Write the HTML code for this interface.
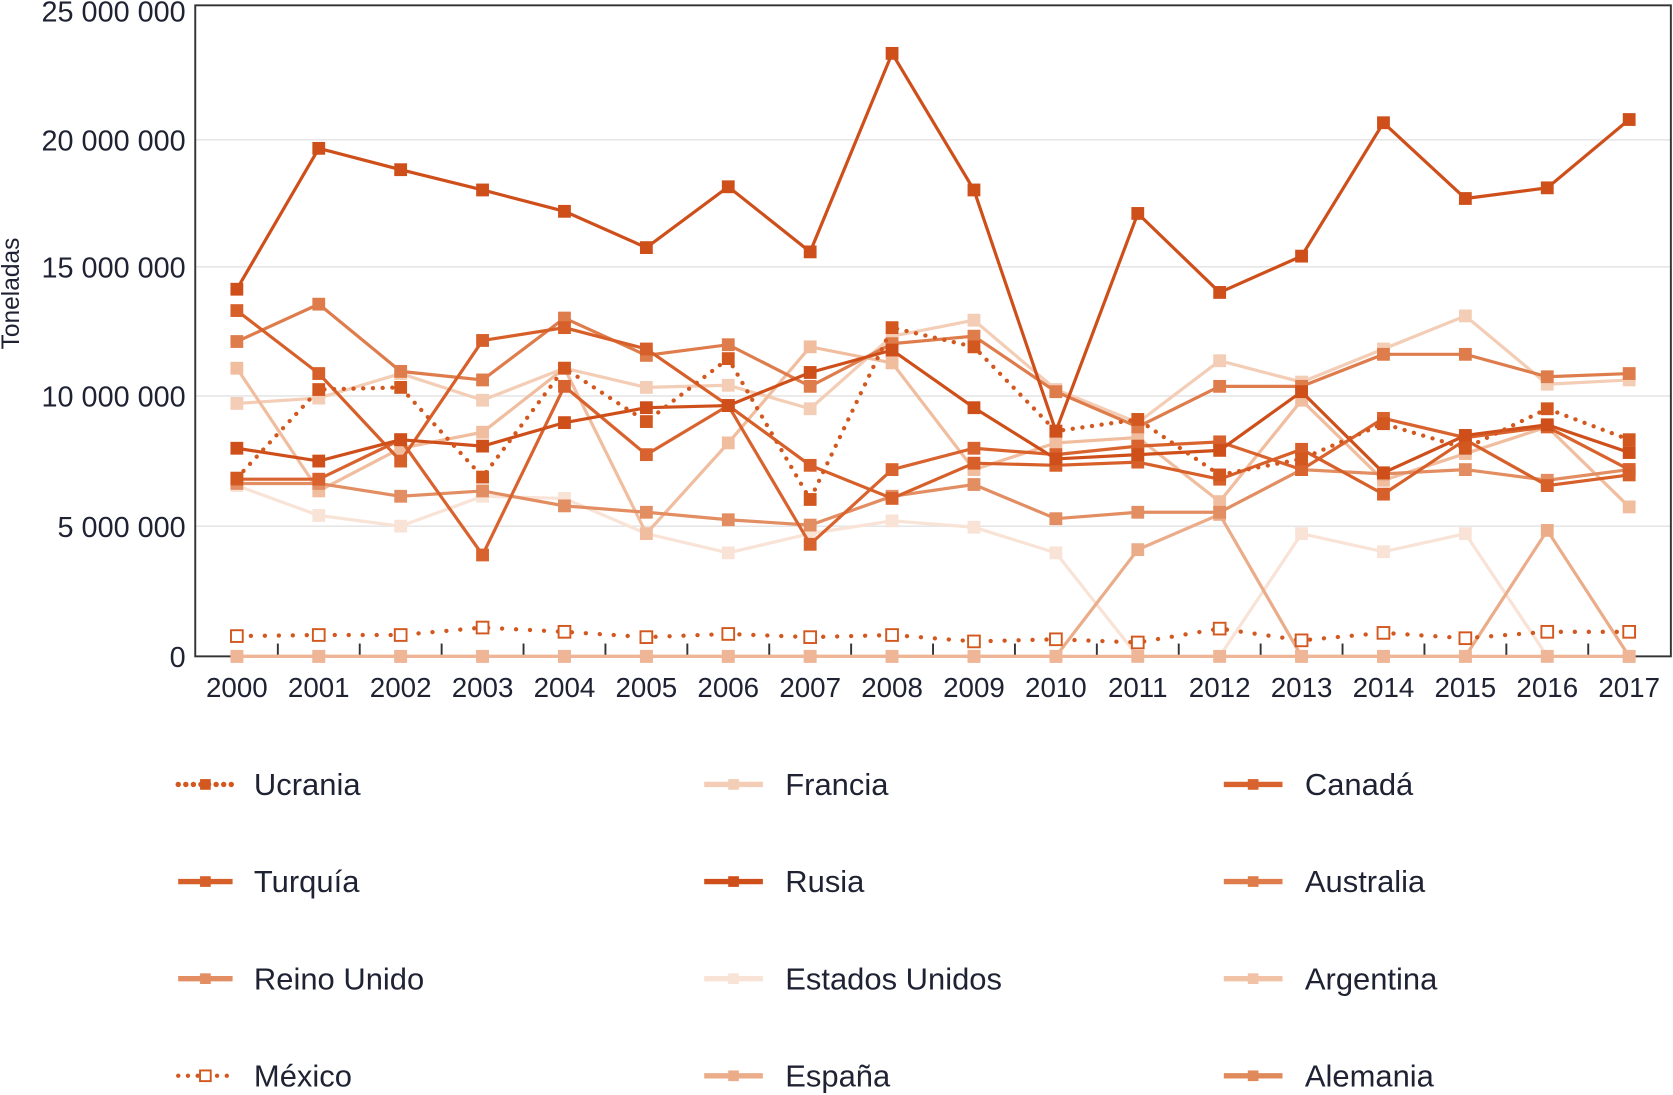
<!DOCTYPE html>
<html><head><meta charset="utf-8"><style>
html,body{margin:0;padding:0;background:#fff;}
svg{display:block;font-family:"Liberation Sans",sans-serif;}
</style></head><body>
<svg id="c" width="1673" height="1095" viewBox="0 0 1568 1026" preserveAspectRatio="none" xmlns="http://www.w3.org/2000/svg">
<g stroke="#e6e6e6" stroke-width="1.5">
<line x1="183" y1="131" x2="1566" y2="131"/><line x1="183" y1="250" x2="1566" y2="250"/>
<line x1="183" y1="371" x2="1566" y2="371"/><line x1="183" y1="493" x2="1566" y2="493"/>
</g>
<rect x="183" y="5" width="1383" height="610" fill="none" stroke="#333" stroke-width="1.8"/>
<g font-size="27" fill="#1e2233" text-anchor="end">
<text x="174" y="20">25 000 000</text><text x="174" y="141">20 000 000</text>
<text x="174" y="260">15 000 000</text><text x="174" y="381">10 000 000</text>
<text x="174" y="503">5 000 000</text><text x="174" y="625">0</text>
</g>
<text transform="translate(18,275) rotate(-90)" font-size="23" fill="#1e2233" text-anchor="middle">Toneladas</text>
<g id="ticks" stroke="#333" stroke-width="1.8"></g>
<g id="xl" font-size="26" fill="#1e2233" text-anchor="middle"></g>
<g id="series"></g>
<g id="leg" font-size="29" fill="#1e2233"></g>
</svg>
<script>
var X=function(i){return 222+i*76.76;};
var ns="http://www.w3.org/2000/svg";
function el(p,t,a,txt){var e=document.createElementNS(ns,t);for(var k in a)e.setAttribute(k,a[k]);if(txt)e.textContent=txt;document.getElementById(p).appendChild(e);return e;}
for(var i=0;i<18;i++){el('xl','text',{x:X(i),y:653},String(2000+i));if(i<17)el('ticks','line',{x1:X(i)+38.4,y1:615,x2:X(i)+38.4,y2:603});}
var S=[
{c:"#f8e3d6",d:[455,483,493,465,467,500,518,500,488,494,518,615,615,500,517,500,615,615]},
{c:"#f3cdb5",d:[378,373,350,375,345,363,361,383,315,300,365,396,338,358,327,296,360,356]},
{c:"#f0bd9f",d:[345,460,420,405,345,500,415,325,340,440,415,410,470,375,450,425,400,475]},
{c:"#ebad89",d:[615,615,615,615,615,615,615,615,615,615,615,515,482,615,615,615,497,615]},
{c:"#e38e62",d:[453,453,465,460,474,480,487,492,465,454,486,480,480,440,444,440,450,440]},
{c:"#eeb697",d:[615,615,615,615,615,615,615,615,615,615,615,615,615,615,615,615,615,615]},
{c:"#de7c4c",d:[320,285,348,356,298,333,323,362,322,315,367,400,362,362,332,332,353,350]},
{c:"#d9632e",d:[449,449,412,520,362,426,380,510,440,420,426,418,414,440,392,410,400,440]},
{c:"#d7602a",d:[291,350,432,319,307,327,380,436,467,434,436,433,449,421,463,412,455,445]},
{c:"#cf4f1b",d:[420,432,412,418,396,382,380,349,328,382,430,426,422,367,443,408,398,424]},
{c:"#d2581f",dash:"0.1 9",w:4,d:[448,365,363,447,345,395,336,468,307,325,404,393,445,430,397,420,383,412]},
{c:"#d2581f",dash:"0.1 13",w:4,hollow:1,d:[596,595,595,588,592,597,594,597,595,601,599,602,589,600,593,598,592,592]},
{c:"#cf4f1b",d:[271,139,159,178,198,232,175,236,50,178,404,200,274,240,115,186,176,112]}
];
S.forEach(function(s){
 var pts=s.d.map(function(y,i){return X(i).toFixed(1)+","+y;}).join(" ");
 var a={points:pts,fill:"none",stroke:s.c,"stroke-width":s.w||3,"stroke-linecap":"round"};
 if(s.dash)a["stroke-dasharray"]=s.dash;
 el('series','polyline',a);
 s.d.forEach(function(y,i){
  if(s.hollow)el('series','rect',{x:X(i)-5.5,y:y-5.5,width:11,height:11,fill:"#fff",stroke:s.c,"stroke-width":1.8});
  else el('series','rect',{x:X(i)-6,y:y-6,width:12,height:12,fill:s.c});
 });
});
var L=[
["Ucrania","#d2581f","dot"],["Francia","#f3cdb5"],["Canadá","#d9632e"],
["Turquía","#d7602a"],["Rusia","#cf4f1b"],["Australia","#de7c4c"],
["Reino Unido","#e38e62"],["Estados Unidos","#f8e3d6"],["Argentina","#f1c2a5"],
["México","#d2581f","hol"],["España","#ebad89"],["Alemania","#e08a5c"]];
var cx=[[167,218,238],[660,715,736],[1147,1202,1223]],ry=[735,826,917,1008];
L.forEach(function(l,k){
 var c=cx[k%3],y=ry[Math.floor(k/3)];
 var a={x1:c[0],y1:y,x2:c[1],y2:y,stroke:l[1],"stroke-width":5};
 if(l[2]==="dot"){a["stroke-dasharray"]="0.1 7";a["stroke-width"]=5;a["stroke-linecap"]="round";}
 if(l[2]==="hol"){a["stroke-dasharray"]="0.1 9";a["stroke-width"]=4;a["stroke-linecap"]="round";}
 el('leg','line',a);
 var m=(c[0]+c[1])/2;
 if(l[2]==="hol")el('leg','rect',{x:m-5,y:y-5,width:10,height:10,fill:"#fff",stroke:l[1],"stroke-width":1.8});
 else el('leg','rect',{x:m-5,y:y-5,width:10,height:10,fill:l[1]});
 el('leg','text',{x:c[2],y:y+10},l[0]);
});
</script>
</body></html>
